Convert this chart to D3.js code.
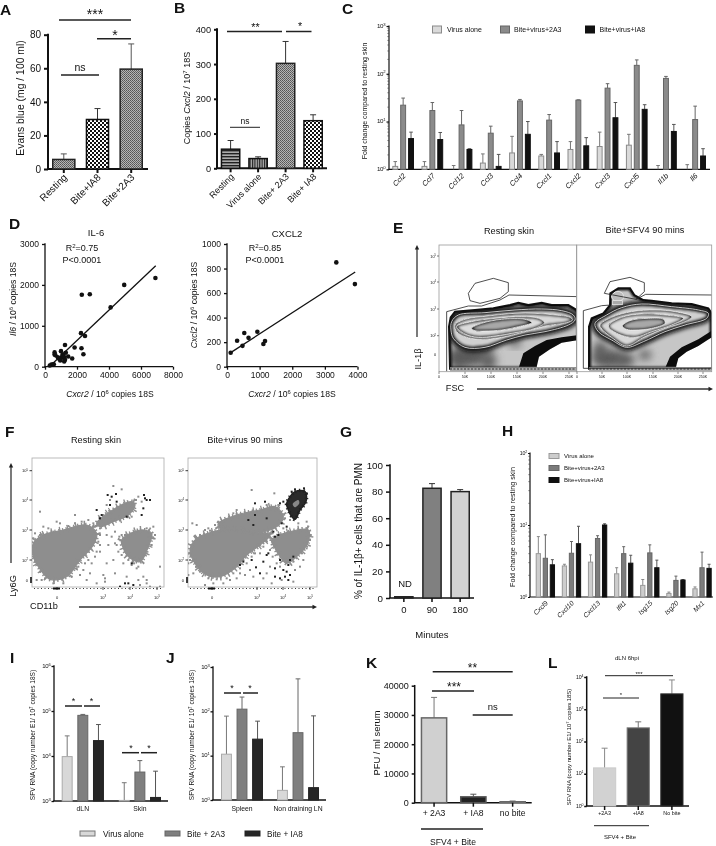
<!DOCTYPE html>
<html><head><meta charset="utf-8">
<script src="https://cdn.jsdelivr.net/npm/d3@7/dist/d3.min.js"></script>
<style>html,body{margin:0;padding:0;background:#fff}svg{display:block;font-family:"Liberation Sans",Arial,sans-serif;filter:blur(.35px)}text{fill:#111}</style>
</head><body><div id="c"></div>
<script>
// ---------- DATA ----------
const aCats=["Resting","Bite+IA8","Bite+2A3"], aVals=[5.7,29.5,59.5], aErrs=[9,36,74.5];
const bCats=["Resting","Virus alone","Bite+ 2A3","Bite+ IA8"], bVals=[55,28,302,137], bErrs=[80,33,365,154];
const cGenes=["Ccl2","Ccl7","Ccl12","Ccl3","Ccl4","Cxcl1","Cxcl2","Cxcl3","Cxcl5","Il1b","Il6"];
const cVirus=[1.15,1.15,1,1.35,2.2,1.9,2.6,3,3.2,1,1], cVirusErr=[1.45,1.45,1.2,2.1,4.9,2.05,3.8,6,5.4,1.2,1.25];
const c2A3=[22,17,8.5,5.7,27,10.7,28,50,150,80,11], c2A3Err=[31,25,17,8,29,14,28.5,62,195,88,21];
const cIA8=[4.4,4.2,2.6,1.15,5.4,2.2,3.1,12,18,6.2,1.9], cIA8Err=[6,5.9,2.7,2.05,10,3.8,4.6,25,22.5,8.7,2.7];
const d1Pts=[[6900,2170],[4950,2000],[2800,1770],[2300,1760],[4100,1450],[2250,820],[2500,750],[1250,530],[1850,470],[2280,450],[2400,305],[600,350],[600,300],[650,280],[1000,380],[1100,300],[1300,340],[1450,250],[1200,230],[1050,220],[900,190],[800,230],[950,150],[1200,130],[1250,170],[1700,200],[500,50],[400,50],[300,30],[550,60],[1150,260]];
const d1Fit=[[300,10],[6920,2470]];
const d2Pts=[[113,114],[310,212],[530,275],[475,170],[660,235],[930,285],[1115,185],[1165,210],[3350,850],[3920,673]];
const d2Fit=[[113,115],[3930,772]];
const gCats=["0","90","180"], gVals=[1,82.5,80], gErrs=[1,86,81.5];
const hGenes=["Cxcl9","Cxcl10","Cxcl13","Ifit1","Isg15","Isg20","Mx1"];
const hVirus=[4,2.7,3.05,2.1,1.45,1.12,1.3], hVirusErr=[6.9,2.85,3.85,2.55,1.75,1.17,1.38];
const h2A3=[3.45,4.05,6.5,4,4.1,1.7,2.55], h2A3Err=[7.3,5.9,7.1,5,5.3,1.95,4.2];
const hIA8=[2.8,5.5,10,2.95,2.55,1.72,2.5], hIA8Err=[3.3,9.6,10.4,3.8,3.25,1.75,2.85];
const iCats=["dLN","Skin"], iVirus=[9700,1030], iVirusErr=[28000,2550], i2A3=[80000,4400], i2A3Err=[84000,7900], iIA8=[22000,1200], iIA8Err=[50000,4600];
const jCats=["Spleen","Non draining LN"], jVirus=[10.8,1.65], jVirusErr=[78,5.6], j2A3=[112,33], j2A3Err=[210,540], jIA8=[23.6,1.9], jIA8Err=[60,79];
const kCats=["+ 2A3","+ IA8","no bite"], kVals=[29000,2000,400], kErrs=[36000,2900,550];
const lCats=["+2A3","+IA8","No bite"], lVals=[15.2,265,3000], lErrs=[62,407,8100];
// flow cytometry outlines
const eLOuter=[[45,326],[42,200],[47,172],[60,155],[120,150],[175,145],[225,135],[250,128],[280,135],[320,128],[350,135],[400,135],[425,150],[432,170],[432,326]];
const eLWedge=[[252,320],[265,280],[300,258],[335,240],[380,232],[432,225],[432,240],[380,248],[345,268],[312,290],[305,320]];
const eLWhite=[[305,322],[312,290],[345,268],[380,248],[432,240],[432,322]];
const eLRings=[
 [[50,185],[70,165],[150,158],[240,150],[320,147],[380,152],[415,165],[420,180],[400,195],[330,215],[270,225],[215,240],[150,262],[90,262],[55,235],[48,210]],
 [[60,195],[90,178],[160,168],[240,160],[300,160],[360,165],[405,172],[412,180],[395,188],[330,198],[270,215],[200,232],[135,238],[90,230],[65,215]],
 [[65,200],[110,185],[180,175],[260,170],[310,175],[328,188],[300,205],[240,218],[180,228],[130,232],[90,222]],
 [[110,205],[140,190],[200,178],[270,178],[290,188],[250,200],[200,210],[150,213],[120,212]]];
const eLGate=[[100,100],[120,70],[175,55],[220,68],[220,95],[195,115],[135,130],[105,122]];
const eLGate2=[[35,334],[35,155],[100,138],[140,138],[195,120],[222,105],[432,110]];
const eLPatch=[[95,290,55,30],[135,275,40,20],[70,300,20,25],[160,305,25,22],[240,250,20,10]];
const eROuter=[[42,326],[42,200],[50,175],[85,160],[105,135],[106,100],[130,85],[165,85],[178,105],[205,120],[230,122],[290,130],[350,132],[400,145],[410,160],[410,326]];
const eRWedge=[[272,320],[285,290],[320,262],[370,238],[410,212],[410,232],[370,258],[335,275],[310,295],[303,320]];
const eRWhite=[[303,322],[310,295],[335,275],[370,258],[410,232],[410,322]];
const eRRings=[
 [[60,190],[95,165],[140,143],[200,132],[290,140],[370,150],[400,160],[395,175],[330,195],[270,215],[205,245],[155,262],[110,240],[70,215]],
 [[75,195],[110,172],[170,155],[240,150],[300,155],[350,170],[330,185],[270,205],[210,230],[155,258],[110,232],[85,212]],
 [[100,198],[140,172],[200,162],[270,165],[325,175],[290,195],[230,215],[180,232],[130,222]],
 [[142,198],[165,182],[220,175],[265,178],[270,190],[230,205],[180,210],[155,208]]];
const eRBlob=[[110,108],[125,94],[142,100],[145,115],[130,124],[115,120]];
const eRGate=[[88,100],[105,65],[165,52],[208,68],[208,95],[183,118]];
const eRGate2=[[108,135],[80,137],[25,152],[25,325],[412,325],[412,105],[212,103],[183,118]];
const eRPatch=[[100,295,50,28],[150,300,30,20],[75,270,18,28],[210,285,20,14]];
const fLBlobs=[
 [[100,370],[130,345],[190,330],[260,315],[290,340],[280,375],[240,420],[200,470],[150,478],[115,440],[100,410]],
 [[290,310],[330,275],[395,245],[405,255],[385,285],[340,305],[300,320]],
 [[365,360],[420,330],[455,340],[445,380],[420,425],[385,410],[370,385]]];
const fLGray=[[120,275],[340,198],[365,208],[330,240],[320,255],[415,230],[408,240],[425,245],[280,310],[265,300],[225,285],[170,305],[180,310],[130,320],[105,340],[145,325],[300,300],[320,345],[335,350],[345,370],[325,375],[355,395],[300,395],[285,410],[340,420],[370,430],[395,435],[320,430],[480,440],[460,320],[465,345],[440,480],[430,470],[415,480],[440,490],[345,460],[310,465],[315,475],[270,460],[260,480],[240,465],[230,445],[125,480],[110,480],[290,490],[315,485],[380,470],[420,495],[450,500],[480,500],[402,430],[410,445],[350,375],[300,375],[290,395],[250,450],[255,430],[265,420],[275,430],
 [205,318],[225,310],[245,305],[160,335],[120,345],[100,355],[98,395],[105,425],[120,455],[135,475],[160,490],[190,490],[215,470],[235,440],[265,395],[295,365],[300,345],[280,320],[310,285],[345,272],[300,325],[315,310],[360,300],[395,290],[375,270],[400,265],[358,350],[365,345],[440,325],[460,355],[455,375],[440,400],[415,440],[385,420],[365,405],[375,345],[345,335]];
const fLBlack=[[323,225],[335,230],[348,222],[330,255],[350,245],[290,270],[305,285],[380,290],[425,285],[430,265],[432,225],[440,240],[450,240],[435,235],[300,295],[395,430],[375,490],[400,495],[360,500],[385,490]];
const fRBlobs=[
 [[30,270],[50,235],[100,215],[160,205],[220,215],[270,225],[240,255],[200,285],[170,320],[120,350],[80,345],[45,310]],
 [[115,190],[170,165],[240,150],[285,140],[310,170],[290,200],[240,215],[170,205],[120,205]],
 [[275,240],[330,215],[385,210],[383,250],[350,290],[320,310],[300,290],[285,265]]];
const fRCore=[[320,130],[345,95],[375,95],[378,125],[360,150],[345,178],[335,170],[325,150]];
const fRCoreIn=[[338,132],[355,120],[358,130],[345,142]];
const fRBlack=[[255,125],[225,130],[225,165],[205,180],[220,195],[260,175],[280,215],[285,230],[295,225],[300,130],[310,125],[305,190],[320,200],[260,285],[265,280],[215,300],[250,305],[285,325],[300,300],[310,330],[320,335],[330,345],[325,360],[300,355],[285,350],[315,350],[240,340],[228,322],[180,315],[190,305],[330,300],[340,290],[325,315],[335,95],[380,100],[372,85],[345,88]];
const fRGray=[[215,90],[283,100],[37,190],[50,195],[170,150],[160,160],[130,185],[115,185],[85,205],[75,210],[30,300],[25,310],[40,340],[25,345],[380,185],[330,180],[355,190],[225,200],[200,310],[210,330],[220,350],[250,355],[260,340],[270,320],[180,340],[150,360],[130,370],[100,370],[75,375],[345,330],[360,320],[370,300],[305,360],[275,370],[340,365],[240,280],[250,260],[195,345],[170,355],
 [60,225],[90,212],[130,200],[105,195],[150,180],[190,165],[215,155],[260,135],[295,135],[315,175],[310,205],[225,280],[215,290],[190,300],[180,325],[160,340],[140,355],[110,358],[85,355],[60,335],[48,320],[32,285],[270,270],[278,290],[290,310],[300,320],[340,305],[365,280],[380,265],[392,225],[390,240],[260,245],[250,235]];

// ---------- HELPERS ----------
const svg=d3.select("#c").append("svg").attr("width",716).attr("height",846);
const defs=svg.append("defs");
function pat(id,s,draw){const p=defs.append("pattern").attr("id",id).attr("width",s).attr("height",s).attr("patternUnits","userSpaceOnUse");draw(p);}
pat("fine",2,p=>{p.append("rect").attr("width",2).attr("height",2).attr("fill","#b5b5b5");p.append("rect").attr("width",1).attr("height",1).attr("fill","#555");p.append("rect").attr("x",1).attr("y",1).attr("width",1).attr("height",1).attr("fill","#666");});
pat("check",4,p=>{p.append("rect").attr("width",4).attr("height",4).attr("fill","#fff");p.append("rect").attr("width",2).attr("height",2).attr("fill","#111");p.append("rect").attr("x",2).attr("y",2).attr("width",2).attr("height",2).attr("fill","#111");});
pat("hstr",3,p=>{p.append("rect").attr("width",3).attr("height",3).attr("fill","#aaa");p.append("rect").attr("width",3).attr("height",1.4).attr("fill","#222");});
pat("vstr",2.4,p=>{p.append("rect").attr("width",2.4).attr("height",2.4).attr("fill","#aaa");p.append("rect").attr("width",1.1).attr("height",2.4).attr("fill","#222");});
defs.append("filter").attr("id","b1").attr("x","-30%").attr("y","-30%").attr("width","160%").attr("height","160%").append("feGaussianBlur").attr("stdDeviation",1.3);
defs.append("filter").attr("id","b2").attr("x","-30%").attr("y","-30%").attr("width","160%").attr("height","160%").append("feGaussianBlur").attr("stdDeviation",2);
defs.append("filter").attr("id","b4").attr("x","-60%").attr("y","-60%").attr("width","220%").attr("height","220%").append("feGaussianBlur").attr("stdDeviation",4);

function rich(x,y,parts,fs,o={}){
  const t=svg.append("text").attr("font-size",fs).attr("text-anchor",o.anchor||"middle");
  if(o.rot!==undefined)t.attr("transform",`translate(${x},${y}) rotate(${o.rot})`);else t.attr("x",x).attr("y",y);
  if(o.weight)t.attr("font-weight",o.weight);
  let back=0;
  parts.forEach(p=>{const s=t.append("tspan").text(p.t);
    if(p.i)s.attr("font-style","italic");
    if(p.sup){s.attr("font-size",fs*.68).attr("dy",-fs*.38);back=fs*.38;}
    else if(back){s.attr("dy",back);back=0;}
  });
  return t;
}
const txt=(x,y,s,fs,o={})=>rich(x,y,[{t:s}],fs,o);
const letter=(x,y,s)=>txt(x,y,s,15.5,{anchor:"start",weight:"bold"}).style("fill","#111");
function sig(x1,x2,y,label,fs,lw=1.5,ty){
  svg.append("line").attr("x1",x1).attr("x2",x2).attr("y1",y).attr("y2",y).attr("stroke","#222").attr("stroke-width",lw);
  if(label)txt((x1+x2)/2,ty===undefined?y-2:ty,label,fs);
}
function axes(o){
  const y=o.log?d3.scaleLog().domain(o.domain).range([o.y0,o.y1]):d3.scaleLinear().domain(o.domain).range([o.y0,o.y1]);
  const lw=o.lw||1.5, ts=o.ts||3.5;
  const g=svg.append("g").attr("transform",`translate(${o.ax},0)`).call(d3.axisLeft(y).tickValues(o.ticks).tickSizeOuter(0).tickSize(ts).tickFormat(o.log?()=>"":d3.format("d")));
  g.selectAll("path,line").attr("stroke","#111").attr("stroke-width",lw);
  g.select("path").attr("d",`M0,${o.y1-lw/2}V${o.y0}`);
  g.selectAll("text").attr("font-size",o.fs).attr("font-family","inherit").attr("fill","#111").attr("dx",o.dx||0);
  if(o.log)o.ticks.forEach(v=>{const e=Math.round(Math.log10(v));
    rich(o.ax-ts-1,y(v)+o.fs*.3,[{t:"10"},{t:String(e),sup:true}],o.fs,{anchor:"end"}).attr("letter-spacing",-.2);
    if(o.minor&&v<o.domain[1])d3.range(2,10).forEach(m=>{svg.append("line").attr("x1",o.ax-1.8).attr("x2",o.ax).attr("y1",y(v*m)).attr("y2",y(v*m)).attr("stroke","#333").attr("stroke-width",.5);});
  });
  svg.append("line").attr("x1",o.ax-lw/2).attr("x2",o.xEnd).attr("y1",o.y0).attr("y2",o.y0).attr("stroke","#111").attr("stroke-width",o.xlw||lw);
  return y;
}
function bars(cfg){
  const g=svg.append("g"), base=cfg.base;
  cfg.items.forEach(d=>{
    const ec=d.ec||"#444", cap=d.cap||3, ex=d.x+d.w/2;
    if(d.e>d.v){
      g.append("line").attr("x1",ex).attr("x2",ex).attr("y1",cfg.y(d.v)).attr("y2",cfg.y(d.e)).attr("stroke",ec).attr("stroke-width",d.ew||1);
      g.append("line").attr("x1",ex-cap).attr("x2",ex+cap).attr("y1",cfg.y(d.e)).attr("y2",cfg.y(d.e)).attr("stroke",ec).attr("stroke-width",d.ew||1);
    }
    const sw=d.sw===undefined?1:d.sw;
    if(d.v>base) g.append("rect").attr("x",d.x+sw/2).attr("width",d.w-sw).attr("y",cfg.y(d.v)).attr("height",Math.max(0,cfg.y(base)-cfg.y(d.v)))
      .attr("fill",d.fill).attr("stroke",d.stroke).attr("stroke-width",sw);
  });
}
function single(o){
  const y=axes(o);
  const x=d3.scaleBand().domain(o.cats).range(o.xr).paddingInner(o.pad).paddingOuter(0);
  bars({y,base:o.log?o.domain[0]:0,items:o.cats.map((c,i)=>Object.assign({x:x(c),w:x.bandwidth(),v:o.vals[i],e:o.errs[i]},o.styles[i]))});
  o.cats.forEach(c=>{svg.append("line").attr("x1",x(c)+x.bandwidth()/2).attr("x2",x(c)+x.bandwidth()/2).attr("y1",o.y0).attr("y2",o.y0+4).attr("stroke","#111").attr("stroke-width",o.lw||1.5);});
  return {x,y};
}
function grouped(o){
  const y=axes(o);
  const x=d3.scaleBand().domain(o.cats).range(o.xr).paddingInner(o.pad).paddingOuter(0);
  const xi=d3.scaleBand().domain(d3.range(o.series.length)).range([0,x.bandwidth()]).paddingInner(o.ipad).paddingOuter(0);
  const items=[];
  o.cats.forEach((c,i)=>o.series.forEach((s,k)=>items.push(Object.assign({x:x(c)+xi(k),w:xi.bandwidth(),v:s.v[i],e:s.e[i]},s.style))));
  bars({y,base:o.domain[0],items});
  return {x,y};
}
function rotLabels(x,y0,cats,fs,dx,dy,italic){
  cats.forEach(c=>{rich(x(c)+x.bandwidth()/2+dx,y0+dy,[{t:c,i:italic}],fs,{anchor:"end",rot:-45});});
}
const swatch=(x,y,w,h,fill,stroke)=>svg.append("rect").attr("x",x).attr("y",y).attr("width",w).attr("height",h).attr("fill",fill).attr("stroke",stroke).attr("stroke-width",1);

// ---------- A ----------
letter(0,15,"A");
{const r=single({ax:48,y0:169,y1:34.7,xEnd:148,log:false,domain:[0,80],ticks:[0,20,40,60,80],fs:10,lw:2,ts:4,xr:[52,143],pad:.3,cats:aCats,vals:aVals,errs:aErrs,
  styles:[{fill:"url(#fine)",stroke:"#222",sw:1.5,ec:"#555"},{fill:"url(#check)",stroke:"#111",sw:1.5,ec:"#333"},{fill:"url(#fine)",stroke:"#222",sw:1.5,ec:"#555"}]});
  rotLabels(r.x,169,aCats,10,4,9);
  txt(24,98,"Evans blue (mg / 100 ml)",10.4,{rot:-90});
  sig(59,131,20,"",10); txt(95,18.5,"***",14);
  sig(97,131,38.7,"",10); txt(115,39.5,"*",14);
  sig(61,99,75,"ns",10.5,1.5,71);
}
// ---------- B ----------
letter(174,13,"B");
{const r=single({ax:217,y0:168.3,y1:29.3,xEnd:327,log:false,domain:[0,400],ticks:[0,100,200,300,400],fs:9.2,lw:2,ts:3,xr:[220.7,323],pad:.28,cats:bCats,vals:bVals,errs:bErrs,
  styles:[{fill:"url(#hstr)",stroke:"#111",sw:1.5,ec:"#333"},{fill:"url(#vstr)",stroke:"#111",sw:1.5,ec:"#333"},{fill:"url(#fine)",stroke:"#222",sw:1.5,ec:"#333"},{fill:"url(#check)",stroke:"#111",sw:1.5,ec:"#333"}]});
  rotLabels(r.x,168.3,bCats,9,4,9);
  rich(190,98,[{t:"Copies "},{t:"Cxcl2",i:true},{t:" / 10"},{t:"7",sup:true},{t:" 18S"}],9,{rot:-90});
  sig(227,282,31.5,"",8); txt(255.5,31,"**",10.7);
  sig(286,311.5,31.5,"",8); txt(300,30,"*",10.7);
  sig(230,260,127.3,"ns",8.5,1,124);
}
// ---------- C ----------
letter(342,14,"C");
{const st=[{fill:"#dadada",stroke:"#8a8a8a",ec:"#777",cap:1.8},{fill:"#8b8b8b",stroke:"#666",ec:"#666",cap:1.8},{fill:"#111",stroke:"#111",ec:"#555",cap:1.8}];
 const r=grouped({ax:389,y0:169.3,y1:26,xEnd:710,log:true,domain:[1,1000],ticks:[1,10,100,1000],fs:6.2,lw:1.2,ts:2.5,minor:true,xr:[392.3,706],pad:.257,ipad:.25,cats:cGenes,
  series:[{v:cVirus,e:cVirusErr,style:st[0]},{v:c2A3,e:c2A3Err,style:st[1]},{v:cIA8,e:cIA8Err,style:st[2]}]});
 rotLabels(r.x,169.3,cGenes,7.4,3,7,true);
 txt(367,101,"Fold change compared to resting skin",7,{rot:-90});
 swatch(432.5,26,9,7,st[0].fill,st[0].stroke);swatch(500.5,26,9,7,st[1].fill,st[1].stroke);swatch(585.5,26,9,7,st[2].fill,st[2].stroke);
 txt(447,32,"Virus alone",7,{anchor:"start"});txt(514,32,"Bite+virus+2A3",7,{anchor:"start"});txt(599.5,32,"Bite+virus+IA8",7,{anchor:"start"});
}
// ---------- D ----------
letter(9,229,"D");
function scatter(o){
  const y=axes({ax:o.ax,y0:366.7,y1:244,xEnd:o.xEnd,log:false,domain:o.yd,ticks:o.yt,fs:8.5,lw:1.3,ts:3});
  const x=d3.scaleLinear().domain(o.xd).range([o.ax,o.xEnd]);
  const g=svg.append("g").attr("transform","translate(0,366.7)").call(d3.axisBottom(x).tickValues(o.xt).tickSizeOuter(0).tickSize(3).tickFormat(d3.format("d")));
  g.select("path").remove();g.selectAll("line").attr("stroke","#111").attr("stroke-width",1.3);
  g.selectAll("text").attr("font-size",8.5).attr("font-family","inherit").attr("fill","#111").attr("dy",".62em");
  svg.append("path").attr("d",d3.line().x(d=>x(d[0])).y(d=>y(d[1]))(o.fit)).attr("stroke","#111").attr("stroke-width",1.3).attr("fill","none");
  svg.append("g").selectAll("circle").data(o.pts).join("circle").attr("cx",d=>x(d[0])).attr("cy",d=>y(d[1])).attr("r",2.3).attr("fill","#111");
}
scatter({ax:45,xEnd:173,xd:[0,8000],yd:[0,3000],xt:[0,2000,4000,6000,8000],yt:[0,1000,2000,3000],pts:d1Pts,fit:d1Fit});
scatter({ax:227,xEnd:357.5,xd:[0,4000],yd:[0,1000],xt:[0,1000,2000,3000,4000],yt:[0,200,400,600,800,1000],pts:d2Pts,fit:d2Fit});
txt(96,236,"IL-6",9.5);txt(287,237,"CXCL2",9.5);
rich(82,251,[{t:"R"},{t:"2",sup:true},{t:"=0.75"}],9);txt(82,263,"P<0.0001",9);
rich(265,251,[{t:"R"},{t:"2",sup:true},{t:"=0.85"}],9);txt(265,263,"P<0.0001",9);
rich(16,299,[{t:"Il6",i:true},{t:" / 10"},{t:"6",sup:true},{t:" copies 18S"}],8.6,{rot:-90});
rich(197,305,[{t:"Cxcl2",i:true},{t:" / 10"},{t:"6",sup:true},{t:" copies 18S"}],8.6,{rot:-90});
rich(110,397,[{t:"Cxcr2",i:true},{t:" / 10"},{t:"6",sup:true},{t:" copies 18S"}],8.6);
rich(292,397,[{t:"Cxcr2",i:true},{t:" / 10"},{t:"6",sup:true},{t:" copies 18S"}],8.6);

// ---------- E ----------
letter(393,233,"E");
txt(509,234,"Resting skin",9.2);txt(645,233,"Bite+SFV4 90 mins",9.2);
function arrow(x1,y1,x2,y2,w=1.3){
  const a=Math.atan2(y2-y1,x2-x1),s=5;
  svg.append("line").attr("x1",x1).attr("y1",y1).attr("x2",x2-Math.cos(a)*s*.6).attr("y2",y2-Math.sin(a)*s*.6).attr("stroke","#333").attr("stroke-width",w);
  const p=[[x2,y2],[x2-s*Math.cos(a-.45),y2-s*Math.sin(a-.45)],[x2-s*Math.cos(a+.45),y2-s*Math.sin(a+.45)]];
  svg.append("polygon").attr("points",p.join(" ")).attr("fill","#222");
}
let clipN=0;
function flow(o){
  const xs=d3.scaleLinear().domain(o.xd).range(o.xr), ys=d3.scaleLinear().domain([0,345]).range([260,375]);
  const closed=d3.line().x(d=>xs(d[0])).y(d=>ys(d[1])).curve(d3.curveCatmullRomClosed);
  const poly=d3.line().x(d=>xs(d[0])).y(d=>ys(d[1]));
  const cid="fc"+(++clipN);
  defs.append("clipPath").attr("id",cid).append("rect").attr("x",o.fx[0]).attr("y",245).attr("width",o.fx[1]-o.fx[0]).attr("height",126.7);
  const g=svg.append("g").attr("clip-path",`url(#${cid})`);
  const lin=poly(o.outer)+"Z";
  g.append("path").attr("d",lin).attr("fill","#c6c6c6").attr("stroke","#111").attr("stroke-width",2);
  const cO="fc"+(++clipN);defs.append("clipPath").attr("id",cO).append("path").attr("d",lin);
  const dark=g.append("g").attr("clip-path",`url(#${cO})`);
  o.patches.forEach(p=>dark.append("ellipse").attr("cx",xs(p[0])).attr("cy",ys(p[1])).attr("rx",p[2]/3).attr("ry",p[3]/3).attr("fill","#5a5a5a").attr("filter","url(#b4)"));
  dark.append("path").attr("d",lin).attr("fill","none").attr("stroke","#111").attr("stroke-width",4).attr("filter","url(#b1)");
  dark.append("path").attr("d",closed(o.rings[0])).attr("fill","none").attr("stroke","#111").attr("stroke-width",7).attr("filter","url(#b2)");
  o.rings.forEach((r,i)=>{
    const d=closed(r), id="fc"+(++clipN);
    defs.append("clipPath").attr("id",id).append("path").attr("d",d);
    g.append("path").attr("d",d).attr("fill","#1a1a1a");
    g.append("g").attr("clip-path",`url(#${id})`).append("path").attr("d",d).attr("fill",["#d0d0d0","#d8d8d8","#dcdcdc","#a8a8a8"][i]).attr("stroke","#111").attr("stroke-width",i===0?5:3.2).attr("filter","url(#b1)");
    g.append("path").attr("d",d).attr("fill","none").attr("stroke","#f4f4f4").attr("stroke-width",.8);
  });
  g.append("path").attr("d",poly(o.white)+"Z").attr("fill","#fff");
  g.append("path").attr("d",poly(o.wedge)+"Z").attr("fill","#0c0c0c");
  if(o.blob){g.append("path").attr("d",closed(o.blob)).attr("fill","#bbb").attr("stroke","#e8e8e8").attr("stroke-width",1);
    g.append("rect").attr("x",xs(112)).attr("y",ys(122)).attr("width",(xs(142)-xs(112))).attr("height",ys(134)-ys(122)).attr("fill","#aaa").attr("stroke","#eee").attr("stroke-width",.7);}
  g.append("rect").attr("x",xs(o.outer[0][0])).attr("width",o.fx[1]-xs(o.outer[0][0])).attr("y",ys(322)).attr("height",4).attr("fill","#aaa");
  g.append("line").attr("x1",xs(o.outer[0][0])).attr("x2",o.fx[1]).attr("y1",ys(327)).attr("y2",ys(327)).attr("stroke","#333").attr("stroke-width",1.2).attr("stroke-dasharray","2 1.5");
  g.append("path").attr("d",poly(o.gate)+"Z").attr("fill","none").attr("stroke","#222").attr("stroke-width",.8);
  g.append("path").attr("d",poly(o.gate2)).attr("fill","none").attr("stroke","#222").attr("stroke-width",.8);
  svg.append("rect").attr("x",o.fx[0]).attr("y",245).attr("width",o.fx[1]-o.fx[0]).attr("height",126.7).attr("fill","none").attr("stroke","#999").attr("stroke-width",.8);
  const xt=o.xt;
  ["0","50K","100K","150K","200K","250K"].forEach((l,i)=>{
    txt(xt[i],378,l,3.6);
    svg.append("line").attr("x1",xt[i]).attr("x2",xt[i]).attr("y1",371.7).attr("y2",374).attr("stroke","#444").attr("stroke-width",.6);
  });
}
flow({xd:[0,435],xr:[435,580],fx:[439,576.7],outer:eLOuter,rings:eLRings,wedge:eLWedge,white:eLWhite,gate:eLGate,gate2:eLGate2,patches:eLPatch,xt:[439,465,491,517,543,569]});
flow({xd:[0,423],xr:[575,716],fx:[576.7,711.7],outer:eROuter,rings:eRRings,wedge:eRWedge,white:eRWhite,gate:eRGate,gate2:eRGate2,patches:eRPatch,blob:eRBlob,xt:[577,602,627,653,678,703]});
[[256,"5"],[282,"4"],[309,"3"],[335.7,"2"]].forEach(t=>{rich(436,t[0]+1.5,[{t:"10"},{t:t[1],sup:true}],3.8,{anchor:"end"});svg.append("line").attr("x1",437).attr("x2",439).attr("y1",t[0]).attr("y2",t[0]).attr("stroke","#444").attr("stroke-width",.7);});
txt(436,356,"0",3.8,{anchor:"end"});
arrow(417,337,417,245);txt(421,359,"IL-1β",9.2,{rot:-90});
txt(455,391,"FSC",9.2);arrow(477,389,713,389);

// ---------- F ----------
letter(5,437,"F");
txt(96,443,"Resting skin",9.2);txt(245,443,"Bite+virus 90 mins",9.2);
function dots(o){
  const xs=d3.scaleLinear().domain(o.xd).range(o.xr), ys=d3.scaleLinear().domain(o.yd).range(o.yr);
  const cid="fc"+(++clipN);
  defs.append("clipPath").attr("id",cid).append("rect").attr("x",o.fx[0]).attr("y",458).attr("width",o.fx[1]-o.fx[0]).attr("height",129);
  svg.append("rect").attr("x",o.fx[0]).attr("y",458).attr("width",o.fx[1]-o.fx[0]).attr("height",129).attr("fill","#fff").attr("stroke","#aaa").attr("stroke-width",.8);
  const g=svg.append("g").attr("clip-path",`url(#${cid})`);
  const blob=d3.line().x(d=>xs(d[0])).y(d=>ys(d[1])).curve(d3.curveCatmullRomClosed);
  o.blobs.forEach(b=>{
    g.append("path").attr("d",blob(b)).attr("fill","#8e8e8e").attr("stroke","#8e8e8e").attr("stroke-width",1.2);
    g.append("path").attr("d",blob(b)).attr("fill","none").attr("stroke","#8e8e8e").attr("stroke-width",4.2).attr("stroke-dasharray","1.3 2.6");
    g.append("path").attr("d",blob(b)).attr("fill","none").attr("stroke","#8e8e8e").attr("stroke-width",8).attr("stroke-dasharray","1.3 7");
  });
  g.selectAll(null).data(o.gray).join("rect").attr("x",d=>xs(d[0])-1).attr("y",d=>ys(d[1])-1).attr("width",2).attr("height",2).attr("fill","#8e8e8e");
  if(o.core){
    g.append("path").attr("d",blob(o.core)).attr("fill","#2b2b2b").attr("stroke","#222").attr("stroke-width",1.5);
    g.append("path").attr("d",blob(o.core)).attr("fill","none").attr("stroke","#222").attr("stroke-width",3.6).attr("stroke-dasharray","1.2 3");
    g.append("path").attr("d",blob(o.coreIn)).attr("fill","#888");
  }
  g.selectAll(null).data(o.black).join("rect").attr("x",d=>xs(d[0])-1).attr("y",d=>ys(d[1])-1).attr("width",2).attr("height",2).attr("fill","#222");
  [[470.7,"5"],[500,"4"],[530,"3"],[560,"2"]].forEach(t=>{
    rich(o.fx[0]-4,t[0]+1.5,[{t:"10"},{t:t[1],sup:true}],4,{anchor:"end"});
    svg.append("line").attr("x1",o.fx[0]-2.5).attr("x2",o.fx[0]).attr("y1",t[0]).attr("y2",t[0]).attr("stroke","#222").attr("stroke-width",.9);
  });
  txt(o.fx[0]-4,581.5,"0",4,{anchor:"end"});
  svg.append("line").attr("x1",o.fx[0]-1).attr("x2",o.fx[0]-1).attr("y1",577).attr("y2",583).attr("stroke","#111").attr("stroke-width",1.6);
  o.xt.forEach((v,i)=>{
    if(i===0)txt(v,599,"0",4);else rich(v,599,[{t:"10"},{t:String(i+2),sup:true}],4);
    svg.append("line").attr("x1",v).attr("x2",v).attr("y1",587).attr("y2",590).attr("stroke","#222").attr("stroke-width",.8);
  });
  svg.append("line").attr("x1",o.fx[0]+2).attr("x2",o.fx[1]-2).attr("y1",588.5).attr("y2",588.5).attr("stroke","#333").attr("stroke-width",1).attr("stroke-dasharray","1 2.5");
  svg.append("line").attr("x1",o.xt[0]-4).attr("x2",o.xt[0]+3).attr("y1",588.5).attr("y2",588.5).attr("stroke","#111").attr("stroke-width",2);
}
dots({xd:[0,1020],xr:[0,340],yd:[0,600],yr:[420,620],fx:[32,164],blobs:fLBlobs,gray:fLGray,black:fLBlack,xt:[57,103,130,157]});
dots({xd:[0,420],xr:[180,320],yd:[0,390],yr:[460,590],fx:[188,317],blobs:fRBlobs,gray:fRGray,black:fRBlack,core:fRCore,coreIn:fRCoreIn,xt:[212,257,283,310]});
arrow(11,563,11,463);txt(15.5,586,"Ly6G",9.2,{rot:-90});
txt(30,609,"CD11b",9.2,{anchor:"start"});arrow(79,607,317,607);

// ---------- G ----------
letter(340,437,"G");
{const r=single({ax:390,y0:598,y1:465,xEnd:474,log:false,domain:[0,100],ticks:[0,20,40,60,80,100],fs:9.8,lw:1.5,ts:4,xr:[394,470],pad:.3,cats:gCats,vals:gVals,errs:gErrs,
  styles:[{fill:"#444",stroke:"#222",sw:1.3},{fill:"#808080",stroke:"#222",sw:1.5,ec:"#333"},{fill:"#d2d2d2",stroke:"#222",sw:1.5,ec:"#333"}]});
  gCats.forEach(c=>txt(r.x(c)+r.x.bandwidth()/2,613,c,9.5));
  txt(432,638,"Minutes",9.5);txt(405,587,"ND",9.5);
  txt(362,531,"% of IL-1β+ cells that are PMN",10,{rot:-90});
}
// ---------- H ----------
letter(502,436,"H");
{const st=[{fill:"#cdcdcd",stroke:"#999",ec:"#888",cap:1.5},{fill:"#7b7b7b",stroke:"#666",ec:"#666",cap:1.5},{fill:"#0f0f0f",stroke:"#111",ec:"#555",cap:1.5}];
 const r=grouped({ax:530,y0:597,y1:453,xEnd:713,log:true,domain:[1,100],ticks:[1,10,100],fs:5.2,lw:1.2,ts:2,minor:true,xr:[535.7,711.7],pad:.26,ipad:.25,cats:hGenes,
  series:[{v:hVirus,e:hVirusErr,style:st[0]},{v:h2A3,e:h2A3Err,style:st[1]},{v:hIA8,e:hIA8Err,style:st[2]}]});
 rotLabels(r.x,597,hGenes,6.8,3,6.5,true);
 txt(515,527,"Fold change compared to resting skin",7.2,{rot:-90});
 [[456,0,"Virus alone"],[468,1,"Bite+virus+2A3"],[480,2,"Bite+virus+IA8"]].forEach(l=>{swatch(549,l[0]-2.5,10,5,st[l[1]].fill,st[l[1]].stroke);txt(564,l[0]+2,l[2],6,{anchor:"start"});});
}
// ---------- I ----------
letter(10,663,"I");
const iSt=[{fill:"#d8d8d8",stroke:"#aaa",ec:"#777",cap:2.4},{fill:"#7f7f7f",stroke:"#666",ec:"#666",cap:2.4},{fill:"#262626",stroke:"#222",ec:"#555",cap:2.4}];
{const r=grouped({ax:54,y0:801,y1:666,xEnd:168,log:true,domain:[1000,1000000],ticks:[1000,10000,100000,1000000],fs:6,lw:1.3,ts:2.5,xr:[61.7,161],pad:.26,ipad:.3,cats:iCats,
  series:[{v:iVirus,e:iVirusErr,style:iSt[0]},{v:i2A3,e:i2A3Err,style:iSt[1]},{v:iIA8,e:iIA8Err,style:iSt[2]}]});
 iCats.forEach(c=>txt(r.x(c)+r.x.bandwidth()/2,811,c,6.8));
 rich(35,735,[{t:"SFV RNA (copy number E1/ 10"},{t:"7",sup:true},{t:" copies 18S)"}],6.6,{rot:-90});
 sig(65,82,706,"",7);txt(73.5,704,"*",9);sig(84,100,706,"",7);txt(91.5,704,"*",9);
 sig(122,139,752.7,"",7);txt(131,751,"*",9);sig(141,157,752.7,"",7);txt(149,751,"*",9);
}
// ---------- J ----------
letter(166,663,"J");
{const r=grouped({ax:213,y0:800,y1:667,xEnd:326,log:true,domain:[1,1000],ticks:[1,10,100,1000],fs:6,lw:1.3,ts:2.5,xr:[221,319],pad:.25,ipad:.3,cats:jCats,
  series:[{v:jVirus,e:jVirusErr,style:iSt[0]},{v:j2A3,e:j2A3Err,style:iSt[1]},{v:jIA8,e:jIA8Err,style:iSt[2]}]});
 jCats.forEach(c=>txt(r.x(c)+r.x.bandwidth()/2,811,c,6.8));
 rich(194,735,[{t:"SFV RNA (copy number E1/ 10"},{t:"7",sup:true},{t:" copies 18S)"}],6.6,{rot:-90});
 sig(224,241,693,"",7);txt(232,691,"*",9);sig(243,258,693,"",7);txt(250,691,"*",9);
}
[[80,"Virus alone",103,0],[165,"Bite + 2A3",187,1],[245,"Bite + IA8",267,2]].forEach(l=>{swatch(l[0],831,15,5,iSt[l[3]].fill,iSt[l[3]].stroke==="#aaa"?"#777":iSt[l[3]].stroke);txt(l[2],837,l[1],8.2,{anchor:"start"});});
// ---------- K ----------
letter(366,668,"K");
{const r=single({ax:414.7,y0:802.7,y1:685.7,xEnd:531.7,log:false,domain:[0,40000],ticks:[0,10000,20000,30000,40000],fs:9,lw:1.5,ts:3,xr:[420.7,526],pad:.32,cats:kCats,vals:kVals,errs:kErrs,
  styles:[{fill:"#d0d0d0",stroke:"#666",sw:1.5,ec:"#777"},{fill:"#222",stroke:"#555",sw:1.5,ec:"#555"},{fill:"#ddd",stroke:"#666",sw:1,ec:"#555"}]});
 kCats.forEach(c=>txt(r.x(c)+r.x.bandwidth()/2,816,c,8.6));
 txt(380,743,"PFU / ml serum",9.4,{rot:-90});
 sig(432.7,512.7,671.7,"",8);txt(472.5,672,"**",12);
 sig(432,474,691,"",8);txt(454,690.6,"***",12);
 sig(472.7,512.7,715,"ns",9.5,1.5,710);
 sig(421,483,829,"",8);txt(453,845,"SFV4 + Bite",8.6);
}
// ---------- L ----------
letter(548,668,"L");
{const r=single({ax:586.7,y0:806,y1:677,xEnd:689,log:true,domain:[1,10000],ticks:[1,10,100,1000,10000],fs:5.2,lw:1.5,ts:2.5,minor:false,xr:[593,683.5],pad:.31,cats:lCats,vals:lVals,errs:lErrs,
  styles:[{fill:"#d2d2d2",stroke:"#ccc",sw:1,ec:"#888"},{fill:"#444",stroke:"#777",sw:1,ec:"#777"},{fill:"#111",stroke:"#333",sw:1,ec:"#888"}]});
 lCats.forEach(c=>txt(r.x(c)+r.x.bandwidth()/2,815,c,5.4));
 txt(627,660,"dLN 6hpi",6);
 rich(571,747,[{t:"SFV RNA (copy number E1/ 10"},{t:"7",sup:true},{t:" copies 18S)"}],5.9,{rot:-90});
 sig(605,673,675.7,"",6,1);txt(639,675.6,"***",6);
 sig(603,639,698,"",6,1);txt(621,697,"*",6);
 sig(594,649,825.7,"",6,1);txt(620,839,"SFV4 + Bite",6);
}
</script></body></html>
